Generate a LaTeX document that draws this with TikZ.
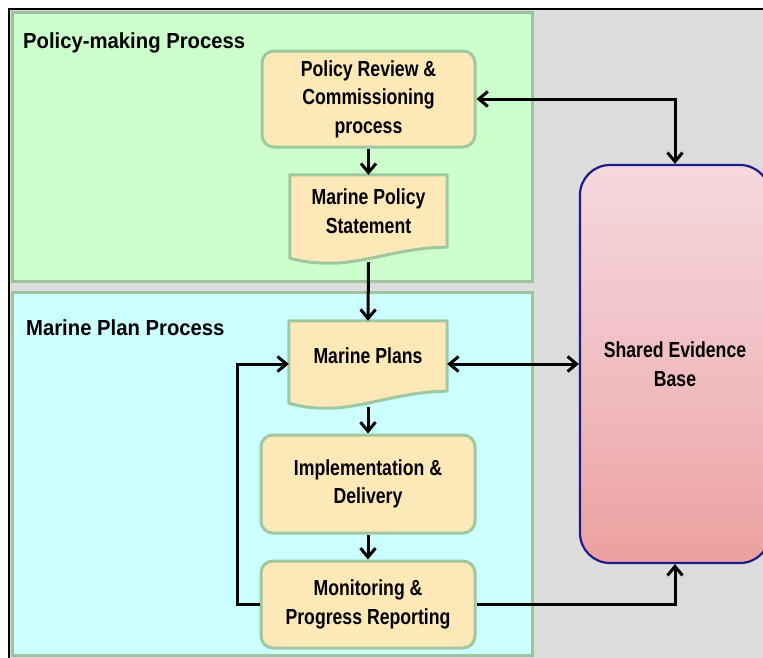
\documentclass[tikz,border=0pt]{standalone}
\usepackage{fontspec}
\newfontfamily\nodefont{Liberation Sans}[FakeStretch=0.81]
\newfontfamily\titlefont{Liberation Sans}[FakeStretch=0.93]
\usetikzlibrary{arrows.meta,calc}
\definecolor{bggray}{HTML}{DCDCDC}
\definecolor{panelgreen}{HTML}{CCFFCC}
\definecolor{panelcyan}{HTML}{CCFFFF}
\definecolor{panelborder}{HTML}{9DC39D}
\definecolor{boxfill}{HTML}{FDE8B7}
\definecolor{boxborder}{HTML}{A0C8A0}
\definecolor{sebtop}{HTML}{F5D8DE}
\definecolor{sebbottom}{HTML}{ECA0A0}
\definecolor{sebborder}{HTML}{1C1C8A}
\pgfdeclarelayer{bg}
\pgfdeclarelayer{mid}
\pgfsetlayers{bg,mid,main}
\begin{document}
\begin{tikzpicture}[x=1pt,y=-1pt,
  boxtext/.style={align=center, inner sep=0pt,
    font=\nodefont\bfseries\fontsize{21.8}{28.5}\selectfont},
  procbox/.style={boxtext, draw=boxborder, line width=3pt, fill=boxfill,
    rounded corners=12pt},
  docbox/.style={boxtext},
  docshape/.style={draw=boxborder, line width=3pt, fill=boxfill, line join=round},
  panel/.style={draw=panelborder, line width=3pt},
  paneltitle/.style={anchor=base west, inner sep=0pt,
    font=\titlefont\bfseries\fontsize{21.8}{25}\selectfont},
  flow/.style={line width=3pt, -{Straight Barb[length=9pt,width=15pt]}},
  flowboth/.style={line width=3pt,
    {Straight Barb[length=9pt,width=15pt]}-{Straight Barb[length=9pt,width=15pt]}},
  evidence/.style={boxtext, draw=sebborder, line width=2.2pt,
    rounded corners=30pt, top color=sebtop, bottom color=sebbottom,
    middle color=sebtop!55!sebbottom}
]
\clip (0,0) rectangle (763,657);
\begin{pgfonlayer}{bg}
% background and frame
\fill[bggray] (9,9) rectangle (790,690);
\draw[black, line width=2.5pt] (9,690) -- (9,9) -- (790,9);
% panels
\draw[panel, fill=panelgreen] (12,12) rectangle (532,281);
\draw[panel, fill=panelcyan] (12,292) rectangle (532,655);
\end{pgfonlayer}
\node[paneltitle] (t1) at (23,48) {Policy-making Process};
\node[paneltitle] (t2) at (26,335) {Marine Plan Process};

% process boxes
\node[procbox, minimum width=213pt, minimum height=96pt] (pr) at (368.5,99)
  {Policy Review \&\\Commissioning\\process};
\node[docbox, minimum width=157pt, minimum height=72pt] (stmt) at (368.5,211)
  {Marine Policy\\Statement};
\node[docbox, minimum width=158pt, minimum height=70pt] (mp) at (368,356)
  {Marine Plans};
\node[procbox, minimum width=214pt, minimum height=98pt] (impl) at (368,484)
  {Implementation \&\\Delivery};
\node[procbox, minimum width=214pt, minimum height=87pt] (mon) at (368,604.5)
  {Monitoring \&\\Progress Reporting};
\node[evidence, minimum width=190pt, minimum height=398pt] (seb) at (675,364)
  {Shared Evidence\\Base};

% document shapes (behind their text)
\begin{pgfonlayer}{mid}
\draw[docshape] (stmt.north west) -- (stmt.north east) -- (stmt.south east)
  .. controls +(-45,0) and +(35,0) .. ($(stmt.south)+(-38,16)$)
  .. controls +(-20,0) and +(12,3) .. ($(stmt.south west)+(0,11)$) -- cycle;
\draw[docshape] (mp.north west) -- (mp.north east) -- (mp.south east)
  .. controls +(-45,0) and +(35,0) .. ($(mp.south)+(-40,17)$)
  .. controls +(-20,0) and +(12,3) .. ($(mp.south west)+(0,12)$) -- cycle;
\end{pgfonlayer}

% connectors
\draw[flow] (pr.south) -- (stmt.north);
\draw[flow] ([yshift=-15pt]stmt.south) -- (mp.north);
\draw[flow] ([yshift=-16pt]mp.south) -- (impl.north);
\draw[flow] (impl.south) -- (mon.north);
\draw[flowboth] (pr.east) -| (seb.north);
\draw[flowboth] (seb.west -| mp.east) -- (seb.west);
\draw[flow] (mon.west) -- ++(-22,0) |- (seb.west -| mp.west);
\draw[flow] (mon.east) -| (seb.south);
\end{tikzpicture}
\end{document}
